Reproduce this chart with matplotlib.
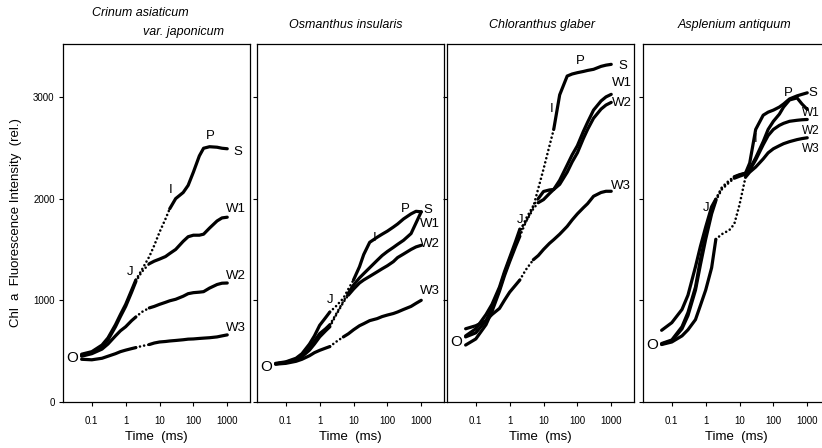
import matplotlib
matplotlib.use("Agg")
import matplotlib.pyplot as plt
import numpy as np

plt.rcParams['font.family'] = ['Liberation Sans', 'DejaVu Sans']

# ---- data -------------------------------------------------------------
time_ms = [0.05, 0.1, 0.2, 0.3, 0.5, 0.7, 1, 1.5, 2, 3, 5, 7, 10, 15, 20,
           30, 50, 70, 100, 150, 200, 300, 500, 700, 1000]

series_names = ["S", "W1", "W2", "W3"]

crinum_S  = [470, 495, 560, 630, 760, 860, 960, 1100, 1200, 1300, 1430, 1540, 1670, 1800, 1900,
             2000, 2060, 2130, 2260, 2420, 2495, 2510, 2505, 2495, 2490]
crinum_W1 = [460, 485, 545, 610, 740, 840, 940, 1080, 1185, 1280, 1360, 1385, 1405, 1430, 1460,
             1500, 1580, 1625, 1640, 1640, 1650, 1710, 1780, 1810, 1817]
crinum_W2 = [450, 475, 520, 570, 650, 700, 740, 800, 836, 885, 925, 940, 960, 980, 995,
             1010, 1040, 1065, 1075, 1080, 1085, 1120, 1155, 1168, 1170]
crinum_W3 = [420, 415, 430, 450, 475, 495, 510, 525, 535, 550, 565, 580, 590, 595, 600,
             605, 612, 618, 620, 625, 628, 632, 640, 650, 660]

osman_S  = [380, 395, 430, 475, 570, 650, 754, 830, 885, 940, 1020, 1110, 1200, 1330, 1450,
            1570, 1620, 1650, 1680, 1720, 1750, 1800, 1850, 1875, 1870]
osman_W1 = [375, 390, 420, 455, 530, 600, 672, 720, 760, 860, 990, 1070, 1150, 1220, 1262,
            1320, 1393, 1440, 1480, 1520, 1550, 1590, 1656, 1760, 1870]
osman_W2 = [375, 388, 415, 445, 510, 570, 640, 700, 740, 850, 980, 1050, 1110, 1170, 1200,
            1235, 1280, 1310, 1340, 1380, 1420, 1455, 1500, 1525, 1541]
osman_W3 = [372, 380, 400, 420, 455, 485, 508, 530, 545, 590, 640, 670, 710, 750, 770,
            800, 820, 840, 855, 870, 885, 910, 940, 970, 1000]

chlor_S  = [650, 720, 860, 960, 1130, 1280, 1420, 1580, 1700, 1770, 1920, 2100, 2290, 2520, 2680,
            3020, 3205, 3225, 3238, 3250, 3260, 3271, 3300, 3312, 3320]
chlor_W1 = [640, 680, 800, 920, 1110, 1260, 1400, 1550, 1660, 1800, 1930, 2000, 2070, 2085, 2090,
            2180, 2330, 2430, 2520, 2660, 2750, 2870, 2960, 3000, 3025]
chlor_W2 = [560, 620, 760, 890, 1090, 1240, 1380, 1530, 1630, 1770, 1900, 1960, 1990, 2050, 2090,
            2140, 2260, 2360, 2450, 2590, 2680, 2790, 2880, 2920, 2946]
chlor_W3 = [720, 750, 800, 860, 920, 1000, 1080, 1150, 1200, 1300, 1399, 1440, 1500, 1560, 1596,
            1650, 1727, 1790, 1850, 1910, 1950, 2023, 2060, 2072, 2072]

asple_S  = [575, 610, 740, 880, 1130, 1400, 1640, 1880, 1990, 2100, 2170, 2210, 2230, 2250, 2350,
            2680, 2820, 2850, 2870, 2900, 2930, 2980, 3010, 3025, 3040]
asple_W1 = [705, 780, 910, 1050, 1330, 1530, 1720, 1920, 1995, 2110, 2180, 2215, 2235, 2250, 2290,
            2400, 2560, 2680, 2760, 2830, 2900, 2970, 2990, 2930, 2877]
asple_W2 = [570, 600, 720, 850, 1100, 1350, 1600, 1850, 1980, 2090, 2160, 2200, 2220, 2240, 2280,
            2380, 2530, 2620, 2680, 2720, 2740, 2760, 2770, 2775, 2778]
asple_W3 = [565, 590, 650, 710, 810, 950, 1100, 1320, 1600, 1650, 1690, 1750, 1940, 2210, 2260,
            2310, 2390, 2450, 2490, 2520, 2540, 2560, 2580, 2590, 2598]

panel_titles = ["Crinum asiaticum\nvar. japonicum", "Osmanthus insularis",
                "Chloranthus glaber", "Asplenium antiquum"]
panel_series = [[crinum_S, crinum_W1, crinum_W2, crinum_W3],
                [osman_S, osman_W1, osman_W2, osman_W3],
                [chlor_S, chlor_W1, chlor_W2, chlor_W3],
                [asple_S, asple_W1, asple_W2, asple_W3]]
# time (ms) where sparse sampling ends for each series (dotted between 2 ms and this)
dot_end = [[20, 5, 5, 5],
           [10, 7, 7, 5],
           [20, 7, 7, 5],
           [7, 7, 7, 15]]
# initial fluorescence O
o_values = [433, 344, 594, 561]

y_ticks = [0, 1000, 2000, 3000]
x_ticks = [0.1, 1, 10, 100, 1000]
x_ticklabels = ["0.1", "1", "10", "100", "1000"]

# annotations: (text, time, value, horizontal alignment, fontsize)
annotations = [
    [("J", 1.4, 1280, "center", 9.5), ("I", 22, 2080, "center", 9.5), ("P", 320, 2620, "center", 9.5),
     ("S", 2000, 2460, "center", 9.5), ("W1", 1800, 1900, "center", 9.5), ("W2", 1800, 1240, "center", 9.5),
     ("W3", 1800, 730, "center", 9.5)],
    [("J", 2.0, 1000, "center", 9.5), ("I", 42, 1610, "center", 9.5), ("P", 330, 1900, "center", 9.5),
     ("S", 1600, 1890, "center", 9.5), ("W1", 1800, 1748, "center", 9.5), ("W2", 1800, 1557, "center", 9.5),
     ("W3", 1800, 1089, "center", 9.5)],
    [("J", 2.0, 1790, "center", 9.5), ("I", 17.8, 2877, "center", 9.5), ("P", 121, 3353, "center", 9.5),
     ("S", 2170, 3303, "center", 9.5), ("W1", 2040, 3140, "center", 9.5), ("W2", 2040, 2943, "center", 9.5),
     ("W3", 1900, 2121, "center", 9.5)],
    [("J", 1.0, 1911, "center", 9.5), ("I", 30, 2590, "center", 9.5), ("P", 270, 3040, "center", 9.5),
     ("S", 1450, 3040, "center", 9.5), ("W1", 720, 2840, "left", 8.5), ("W2", 720, 2660, "left", 8.5),
     ("W3", 720, 2490, "left", 8.5)],
]

# ---- layout -----------------------------------------------------------
W, H = 822, 448
fig = plt.figure(figsize=(W / 100, H / 100), dpi=100)
lefts = [63, 257, 447, 643]
pw, bottom_px, ph = 187, 46, 358

t = np.array(time_ms)
for i in range(4):
    ax = fig.add_axes([lefts[i] / W, bottom_px / H, pw / W, ph / H])
    ax.set_xscale("log")
    ax.set_xlim(0.0141, 4700)
    ax.set_ylim(0, 3520)
    for j, vals in enumerate(panel_series[i]):
        v = np.array(vals)
        de = dot_end[i][j]
        a = t <= 2
        b = (t >= 2) & (t <= de)
        c = t >= de
        ax.plot(t[a], v[a], color="black", lw=2.3, solid_capstyle="round")
        ax.plot(t[b], v[b], color="black", lw=1.9, linestyle=(0, (0.01, 1.6)),
                dash_capstyle="round")
        ax.plot(t[c], v[c], color="black", lw=2.3, solid_capstyle="round")
    ax.text(0.027, o_values[i], "O", fontsize=11, ha="center", va="center")
    for (txt, tx, ty, ha, fs) in annotations[i]:
        ax.text(tx, ty, txt, fontsize=fs, ha=ha, va="center")
    ax.set_xticks(x_ticks)
    ax.set_xticklabels(x_ticklabels, fontsize=7)
    ax.xaxis.set_minor_locator(matplotlib.ticker.NullLocator())
    ax.set_yticks(y_ticks)
    if i == 0:
        ax.set_yticklabels([str(y) for y in y_ticks], fontsize=7)
    else:
        ax.set_yticklabels([])
    ax.tick_params(direction="out", length=3, width=0.8, pad=7)
    ax.tick_params(axis="y", pad=3)
    for s in ax.spines.values():
        s.set_linewidth(0.9)
    ax.set_xlabel("Time  (ms)", fontsize=9.5, labelpad=4)

# titles
fig.text(140 / W, 1 - 13 / H, "Crinum asiaticum", fontsize=9, style="italic",
         ha="center", va="center")
fig.text(183 / W, 1 - 32 / H, "var. japonicum", fontsize=9, style="italic",
         ha="center", va="center")
for i, cx in zip([1, 2, 3], [346, 542, 734]):
    fig.text(cx / W, 1 - 25 / H, panel_titles[i], fontsize=9, style="italic",
             ha="center", va="center")

fig.text(16 / W, 1 - 223 / H, "Chl  a  Fluorescence Intensity  (rel.)", fontsize=9.5,
         rotation=90, ha="center", va="center")

fig.savefig("out.png", dpi=100)
